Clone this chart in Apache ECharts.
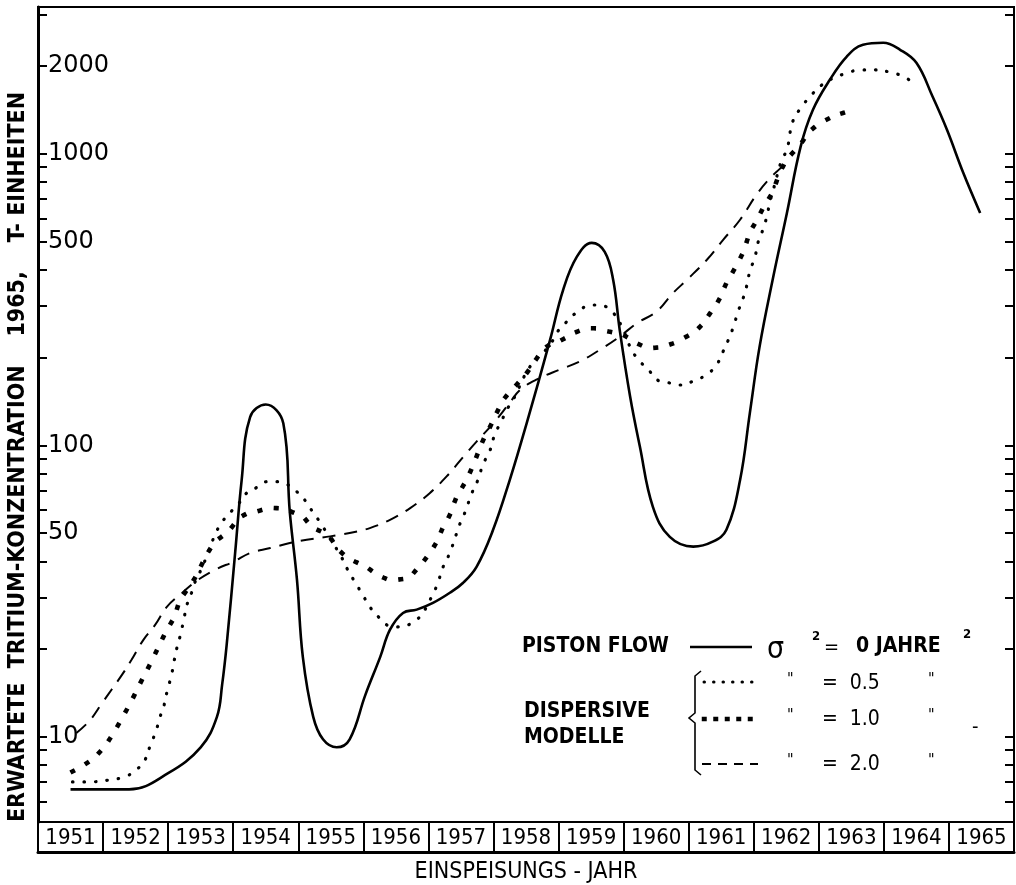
<!DOCTYPE html>
<html><head><meta charset="utf-8">
<script src="https://cdn.jsdelivr.net/npm/echarts@6/dist/echarts.min.js"></script>
<style>html,body{margin:0;padding:0;background:#fff}#c{width:1016px;height:885px}</style>
</head><body><div id="c"></div>
<script>
// ---- data ----
const years = ['1951','1952','1953','1954','1955','1956','1957','1958','1959','1960','1961','1962','1963','1964','1965'];
const yLabelValues = [10, 50, 100, 500, 1000, 2000];
const yTickValues = [6,7,8,9,10,20,30,40,50,60,70,80,90,100,200,300,400,500,600,700,800,900,1000,2000,3000];

// piston flow, sigma^2 = 0
const pistonFlow = [
 [1951.0,6.6],[1951.9,6.6],[1952.5,7.5],[1953.0,9.2],[1953.25,11.7],[1953.33,15.1],[1953.4,20.7],
 [1953.53,42.8],[1953.63,76],[1953.76,125],[1954.0,138],[1954.27,119],[1954.37,59],[1954.48,34.6],
 [1954.57,18.8],[1954.73,11.7],[1954.88,9.8],[1955.09,9.2],[1955.29,9.8],[1955.53,13.9],[1955.76,18.8],
 [1955.91,23.3],[1956.11,26.6],[1956.32,27.3],[1956.57,28.8],[1956.83,31.2],[1957.03,33.7],[1957.24,38.3],
 [1957.49,51],[1957.75,76],[1958.01,119],[1958.37,230],[1958.57,341],[1958.78,443],[1959.01,495],
 [1959.21,461],[1959.34,369],[1959.44,249],[1959.6,147],[1959.75,99],[1959.95,61.5],[1960.21,48.5],
 [1960.57,44.9],[1960.87,46.7],[1961.08,51.3],[1961.29,76],[1961.44,129],[1961.59,218],[1961.79,369],
 [1962.01,627],[1962.22,1057],[1962.41,1416],[1962.67,1795],[1962.93,2157],[1963.18,2366],[1963.49,2404],
 [1963.75,2275],[1964.0,2052],[1964.25,1569],[1964.47,1209],[1964.72,861],[1964.98,627]
];
// dispersive model, sigma^2 = 0.5
const dispersive05 = [
 [1951.03,7.0],[1951.3,7.0],[1951.58,7.1],[1951.84,7.3],[1952.01,7.7],[1952.14,8.3],[1952.23,9.4],
 [1952.31,10.4],[1952.37,11.6],[1952.44,12.9],[1952.49,14.5],[1952.55,16.2],[1952.59,18.1],[1952.63,20.0],
 [1952.69,22.4],[1952.74,25.2],[1952.79,28.4],[1952.86,31.2],[1952.91,33.8],[1953.02,38.0],[1953.09,41.5],
 [1953.22,49.3],[1953.32,54.2],[1953.45,58.7],[1953.57,62.5],[1953.71,68.7],[1953.88,72],[1954.01,75],
 [1954.19,75],[1954.5,68.7],[1954.63,63.5],[1954.73,58.7],[1954.84,54.2],[1955.17,41.1],[1955.26,37.4],
 [1955.37,34.0],[1955.49,30.7],[1955.6,27.9],[1955.73,25.8],[1955.86,24.2],[1955.99,23.8],[1956.32,25.2],
 [1956.55,30.2],[1956.65,34.0],[1956.72,38.0],[1956.83,42.8],[1956.99,54.2],[1957.06,58.7],[1957.17,68.7],
 [1957.26,76],[1957.34,86],[1957.45,96.5],[1957.52,109],[1957.63,122],[1957.7,132],[1957.8,143],
 [1958.06,186],[1958.37,221],[1958.47,243],[1958.6,262],[1958.8,288],[1959.01,303],[1959.21,300],
 [1959.34,285],[1959.47,256],[1959.62,213],[1959.75,194],[1959.88,182],[1960.01,168],[1960.19,164],
 [1960.37,161],[1960.57,166],[1960.78,175],[1960.93,189],[1961.03,210],[1961.11,230],[1961.19,256],
 [1961.26,288],[1961.34,321],[1961.39,351],[1961.44,395],[1961.52,444],[1961.57,500],[1961.65,556],
 [1961.7,609],[1961.75,686],[1961.8,752],[1961.93,953],[1962.01,1032],[1962.1,1291],[1962.24,1453],
 [1962.39,1594],[1962.54,1718],[1962.72,1818],[1962.93,1891],[1963.13,1941],[1963.36,1941],
 [1963.59,1907],[1963.8,1842],[1964.0,1724]
];
// dispersive model, sigma^2 = 1.0
const dispersive10 = [
 [1951.03,7.6],[1951.31,8.3],[1951.51,9.2],[1951.67,10.4],[1951.83,12.0],[1951.96,13.6],[1952.08,15.4],
 [1952.22,17.7],[1952.35,20.3],[1952.47,23.0],[1952.59,25.7],[1952.69,29.5],[1952.88,34.1],[1953.19,45.6],
 [1953.42,50.6],[1953.63,57],[1953.86,59.3],[1954.12,60.9],[1954.55,57],[1954.71,52.6],[1954.96,48.9],
 [1955.12,43.8],[1955.32,40.5],[1955.53,38.4],[1955.73,35.9],[1955.94,34.6],[1956.17,35.1],[1956.34,38.0],
 [1956.5,42.1],[1956.63,46.8],[1956.73,52.6],[1956.83,57.8],[1956.93,66.1],[1957.06,74.4],[1957.17,83.7],
 [1957.34,104],[1957.45,116],[1957.57,132],[1957.65,143],[1957.83,159],[1958.01,177],[1958.11,191],
 [1958.32,218],[1958.55,230],[1958.8,246],[1959.03,252],[1959.26,246],[1959.49,239],[1959.7,224],
 [1959.93,216],[1960.19,221],[1960.42,233],[1960.65,252],[1960.83,284],[1960.98,320],[1961.08,360],
 [1961.21,405],[1961.34,462],[1961.44,535],[1961.55,594],[1961.67,668],[1961.78,733],[1961.91,869],
 [1962.03,966],[1962.21,1073],[1962.36,1193],[1962.57,1291],[1962.83,1371],[1963.01,1405]
];
// dispersive model, sigma^2 = 2.0
const dispersive20 = [
 [1951.09,10.3],[1951.3,11.4],[1951.48,13.0],[1951.63,14.5],[1951.79,16.3],[1951.94,18.4],[1952.12,21.5],
 [1952.3,24.2],[1952.48,27.9],[1952.71,31.1],[1952.94,34.3],[1953.25,37.7],[1953.5,39.8],[1953.76,42.7],
 [1954.07,44.4],[1954.37,46.2],[1954.63,47.4],[1954.99,48.7],[1955.29,50.0],[1955.6,52.0],[1955.91,55.5],
 [1956.22,60.9],[1956.52,68.5],[1956.78,78.2],[1957.04,91.5],[1957.24,103],[1957.5,119],[1957.75,140],
 [1957.91,155],[1958.16,168],[1958.52,182],[1958.83,194],[1959.14,213],[1959.44,236],[1959.7,262],
 [1960.01,288],[1960.26,333],[1960.47,369],[1960.78,433],[1961.03,507],[1961.29,594],[1961.54,723],
 [1961.75,825],[1961.9,888],[1961.98,924]
];

// ---- chart ----
const CF = '"DejaVu Sans Condensed", "Liberation Sans Narrow", "DejaVu Sans", sans-serif';
const chart = echarts.init(document.getElementById('c'), null, {renderer: 'canvas'});

function txt(x, y, text, size, opts) {
  return Object.assign({type: 'text', x: x, y: y, silent: true,
    style: Object.assign({text: text, fill: '#000', fontSize: size, fontFamily: CF,
      textAlign: 'left', textVerticalAlign: 'middle'}, (opts && opts.style) || {})},
    opts && opts.rotation !== undefined ? {rotation: opts.rotation} : {});
}
function seg(x1, y1, x2, y2, style) {
  return {type: 'line', silent: true, shape: {x1: x1, y1: y1, x2: x2, y2: y2},
    style: Object.assign({stroke: '#000', lineWidth: 2}, style)};
}

const logAxisCommon = {type: 'log', logBase: 10, min: 5.1, max: 3190, splitLine: {show: false}};

chart.setOption({
  backgroundColor: '#fff',
  animation: false,
  grid: {left: 38, right: 2, top: 7, bottom: 63, show: true, borderColor: '#000', borderWidth: 2,
         backgroundColor: 'transparent', outerBoundsMode: 'none', containLabel: false},
  xAxis: [
    {type: 'category', data: years, position: 'bottom', boundaryGap: true,
     axisLine: {lineStyle: {color: '#000', width: 2}},
     axisTick: {show: true, interval: 0, length: 30, lineStyle: {color: '#000', width: 2}},
     axisLabel: {interval: 0, margin: 5, fontSize: 22, fontFamily: CF, color: '#000'},
     splitLine: {show: false},
     name: 'EINSPEISUNGS - JAHR', nameLocation: 'middle', nameGap: 39,
     nameTextStyle: {fontSize: 23, fontFamily: CF, color: '#000'}},
    {type: 'category', data: years, position: 'bottom', offset: 30, boundaryGap: true,
     axisLine: {lineStyle: {color: '#000', width: 3}}, axisTick: {show: false}, axisLabel: {show: false}, splitLine: {show: false}},
    {type: 'value', min: 1950.5, max: 1965.5, show: false, splitLine: {show: false}}
  ],
  yAxis: [
    Object.assign({}, logAxisCommon, {position: 'left',
      axisLine: {show: true, lineStyle: {color: '#000', width: 3}},
      axisTick: {show: true, inside: true, length: 9, customValues: yTickValues, lineStyle: {color: '#000', width: 2}},
      axisLabel: {show: true, inside: true, margin: 10, customValues: yLabelValues, fontSize: 24,
        fontFamily: '"DejaVu Sans", sans-serif', color: '#000', formatter: v => String(Math.round(v))}}),
    Object.assign({}, logAxisCommon, {position: 'right',
      axisLine: {show: true, lineStyle: {color: '#000', width: 2}},
      axisTick: {show: true, inside: true, length: 9, customValues: yTickValues, lineStyle: {color: '#000', width: 2}},
      axisLabel: {show: false}})
  ],
  series: [
    {name: 'PISTON FLOW', type: 'line', xAxisIndex: 2, yAxisIndex: 0, data: pistonFlow, smooth: 0.4,
     symbol: 'none', lineStyle: {color: '#000', width: 2.6}},
    {name: '0.5', type: 'line', xAxisIndex: 2, yAxisIndex: 0, data: dispersive05, smooth: 0.4,
     symbol: 'none', lineStyle: {color: '#000', width: 3.2, type: [0.5, 11], cap: 'round'}},
    {name: '1.0', type: 'line', xAxisIndex: 2, yAxisIndex: 0, data: dispersive10, smooth: 0.4,
     symbol: 'none', lineStyle: {color: '#000', width: 4.6, type: [0.5, 16], cap: 'square'}},
    {name: '2.0', type: 'line', xAxisIndex: 2, yAxisIndex: 0, data: dispersive20, smooth: 0.4,
     symbol: 'none', lineStyle: {color: '#000', width: 2, type: [13, 9]}}
  ],
  graphic: [
    txt(18, 457, 'ERWARTETE  TRITIUM-KONZENTRATION    1965,    T- EINHEITEN', 23,
        {rotation: Math.PI / 2, style: {textAlign: 'center', fontWeight: 'bold'}}),
    // legend
    txt(522, 647, 'PISTON FLOW', 21, {style: {fontWeight: 'bold'}}),
    seg(690, 647, 752, 647, {lineWidth: 2.6}),
    txt(767, 650, 'σ', 30),
    txt(812, 637, '2', 13, {style: {fontWeight: 'bold'}}),
    txt(824, 648, '=', 20),
    txt(856, 647, '0 JAHRE', 21, {style: {fontWeight: 'bold'}}),
    txt(963, 635, '2', 13, {style: {fontWeight: 'bold'}}),
    {type: 'polyline', silent: true,
     shape: {points: [[701, 671], [695, 676], [695, 713], [689, 718], [695, 723], [695, 770], [701, 775]]},
     style: {stroke: '#000', lineWidth: 1.6, fill: null}},
    seg(704, 682, 758, 682, {lineWidth: 3, lineDash: [0.5, 9], lineCap: 'round'}),
    txt(787, 680, '"', 16),
    txt(822, 684, '=  0.5', 21),
    txt(928, 680, '"', 16),
    txt(524, 712, 'DISPERSIVE', 21, {style: {fontWeight: 'bold'}}),
    txt(524, 738, 'MODELLE', 21, {style: {fontWeight: 'bold'}}),
    seg(704, 719, 758, 719, {lineWidth: 4.5, lineDash: [0.5, 11], lineCap: 'square'}),
    txt(787, 716, '"', 16),
    txt(822, 720, '=  1.0', 21),
    txt(928, 716, '"', 16),
    txt(972, 728, '-', 20),
    seg(702, 764, 758, 764, {lineWidth: 2, lineDash: [9, 7]}),
    txt(787, 761, '"', 16),
    txt(822, 765, '=  2.0', 21),
    txt(928, 761, '"', 16)
  ]
});
</script>
</body></html>
